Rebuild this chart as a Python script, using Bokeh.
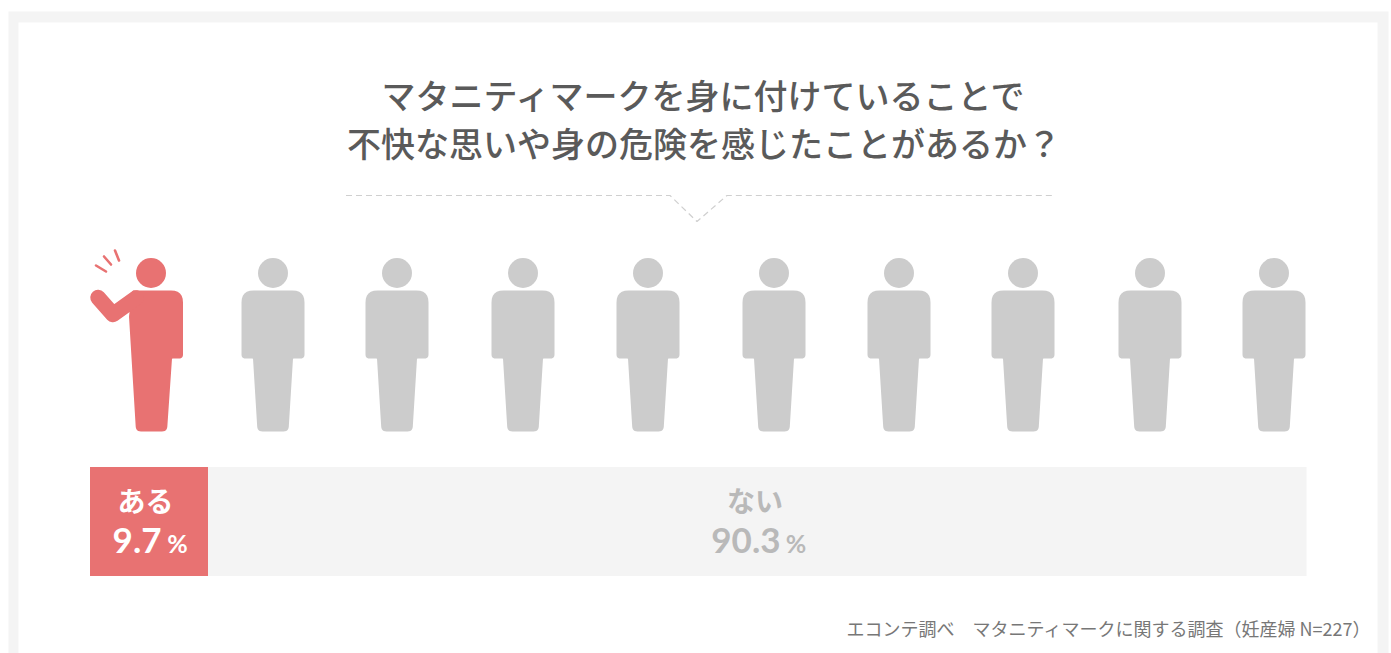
from bokeh.core.properties import value
from bokeh.embed import file_html
from bokeh.models import Range1d
from bokeh.plotting import figure
from bokeh.resources import INLINE

# Survey figures
title_lines = ["マタニティマークを身に付けていることで", "不快な思いや身の危険を感じたことがあるか？"]
answers = ["ある", "ない"]
shares = [9.7, 90.3]
source_note = "エコンテ調べ　マタニティマークに関する調査（妊産婦 N=227）"
person_centers = [150.5, 272.5, 396.5, 522.5, 647.5, 773.5, 898.5, 1022.5, 1149.5, 1273.5]
highlighted_people = 1

RED = "#e87272"
GREY = "#cccccc"
PANEL = "#f4f4f4"
JP = "Noto Sans CJK JP Medium"
LATIN = "Lato"

W, H = 1391, 653
BAR_LEFT, BAR_WIDTH = 89.5, 1216.5
p = figure(width=W, height=H, output_backend="svg", toolbar_location=None,
           x_range=Range1d(0, W), y_range=Range1d(H, 0),
           min_border=0, outline_line_color=None, background_fill_color="white")
p.axis.visible = False
p.grid.visible = False

# The stacked bar lives on its own 0-100 percentage scale.
p.extra_x_ranges = {"share": Range1d(-BAR_LEFT * 100 / BAR_WIDTH, (W - BAR_LEFT) * 100 / BAR_WIDTH)}


def rounded(points, radii, steps=6):
    """Outline of a polygon whose corners are rounded by the given radii."""
    xs, ys = [], []
    n = len(points)
    for i, (x, y) in enumerate(points):
        r = radii[i]
        px, py = points[i - 1]
        nx, ny = points[(i + 1) % n]
        d1 = ((px - x) ** 2 + (py - y) ** 2) ** 0.5
        d2 = ((nx - x) ** 2 + (ny - y) ** 2) ** 0.5
        ax, ay = x + (px - x) * r / d1, y + (py - y) * r / d1
        bx, by = x + (nx - x) * r / d2, y + (ny - y) * r / d2
        for s in range(steps + 1):
            t = s / steps
            xs.append((1 - t) ** 2 * ax + 2 * t * (1 - t) * x + t ** 2 * bx)
            ys.append((1 - t) ** 2 * ay + 2 * t * (1 - t) * y + t ** 2 * by)
    return xs, ys


def standing_person(cx):
    pts = [(cx - 31.5, 290), (cx + 31.5, 290), (cx + 31.5, 358), (cx + 20, 358),
           (cx + 15.5, 431), (cx - 15.5, 431), (cx - 20, 358), (cx - 31.5, 358)]
    xs, ys = rounded(pts, [12, 12, 4, 1, 5, 5, 1, 4])
    p.patch(xs, ys, fill_color=GREY, line_color=None)
    p.circle([cx], [272.5], radius=15, fill_color=GREY, line_color=None)


def waving_person(cx):
    pts = [(cx - 19, 290), (cx + 32, 290), (cx + 32, 358), (cx + 21, 358),
           (cx + 16, 431), (cx - 15, 431), (cx - 22, 316)]
    xs, ys = rounded(pts, [2, 12, 4, 1, 5, 5, 1])
    p.patch(xs, ys, fill_color=RED, line_color=None)
    p.circle([cx], [272.5], radius=15, fill_color=RED, line_color=None)
    # raised arm
    p.line([cx - 53, cx - 38, cx - 15], [297, 314, 297.5], line_width=15.5, line_color=RED,
           line_cap="round", line_join="round")
    # small marks beside the head
    for (x0, y0, x1, y1) in [(-55, -8, -45, -2), (-47, -17, -40, -9), (-36, -23, -32, -13)]:
        p.line([cx + x0, cx + x1], [273 + y0, 273 + y1], line_width=2.6, line_color=RED, line_cap="round")


# Page frame
p.quad(left=[8], right=[1388], top=[11], bottom=[H], fill_color=PANEL, line_color=None)
p.quad(left=[18], right=[1377], top=[22], bottom=[H], fill_color="white", line_color=None)

# Heading
for text, x, y in zip(title_lines, [704, 703.5], [93.5, 141.5]):
    p.text([x], [y], text=[text], text_font=value(JP), text_font_size="34px",
           text_color="#5a5a5a", text_align="center", text_baseline="middle")

# Dashed callout below the heading
p.line([345.5, 669.5, 696.5, 726.5, 1051.5], [195, 195, 221, 195, 195], line_color="#cfcfcf", line_width=1.2,
       line_dash="6 4")

# One figure per ten percent
for i, cx in enumerate(person_centers):
    if i < highlighted_people:
        waving_person(cx)
    else:
        standing_person(cx)

# Stacked share bar
starts = [0, shares[0]]
ends = [shares[0], shares[0] + shares[1]]
p.quad(left=starts, right=ends, top=[466.5, 466.5], bottom=[575.5, 575.5], x_range_name="share",
       fill_color=[RED, PANEL], line_color=None)

# Bar labels: answer above, share below with a smaller percent sign
label_rows = [
    (145, 161, 177, "white"),
    (754.5, 780, 795.5, "#b9b9b9"),
]
for answer, share, (cx, num_right, pct_x, colour) in zip(answers, shares, label_rows):
    p.text([cx], [499.5], text=[answer], text_font=value("Noto Sans CJK JP"), text_font_size="28px",
           text_font_style="bold", text_color=colour, text_align="center", text_baseline="middle")
    p.text([num_right], [540], text=[f"{share}"], text_font=value(LATIN),
           text_font_size="35px", text_font_style="bold", text_color=colour,
           text_align="right", text_baseline="middle")
    p.text([pct_x], [542], text=["%"], text_font=value(LATIN), text_font_size="25px", text_font_style="bold",
           text_color=colour, text_align="center", text_baseline="middle")

# Source note
p.text([1371], [627], text=[source_note], text_font=value("Noto Sans CJK JP"), text_font_size="18px",
       text_color="#777777", text_align="right", text_baseline="middle")

open("out.html", "w").write(file_html(p, INLINE))
